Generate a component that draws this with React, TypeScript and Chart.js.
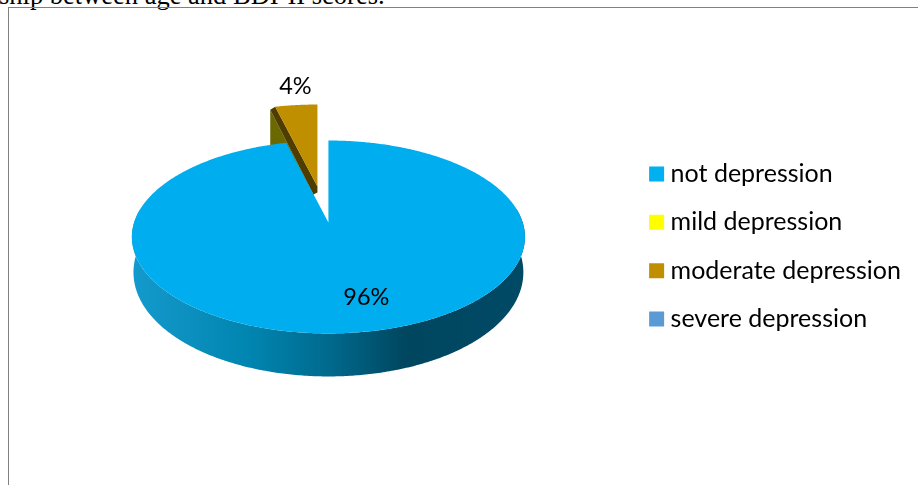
import React, { useEffect, useRef } from "react";
import { Chart, PieController, ArcElement, Legend } from "chart.js";

const categories = ["not depression", "mild depression", "moderate depression", "severe depression"];
const shares = [96, 0, 4, 0];
const sliceColors = ["#00AEEF", "#FFFF00", "#BF8F00", "#5B9BD5"];
const legendColors = ["#00B0F0", "#FFFF00", "#BF8F00", "#5B9BD5"];

// Disc projection: squash turns the circle into an ellipse, tilt adds the perspective.
const SQUASH = 0.4853;
const TILT = 0.15;
const RADIUS = 194.3;
const APEX_LIFT = 24;
const DEPTH_BASE = 34;
const DEPTH_FRONT = 9;
const FONT = "Lato, 'Open Sans', sans-serif";

// The pulled-out slice and where each percentage sits relative to the apex.
const pulledSlice = { index: 2, dx: -11, dy: -36 };
const labelOffsets: Record<number, { dx: number; dy: number }> = {
  0: { dx: 38, dy: 75 },
  2: { dx: -33, dy: -136 },
};

function project(angle: number, cx: number, cy: number, r: number) {
  const u = Math.cos(angle);
  const v = Math.sin(angle);
  const w = 1 - TILT * v;
  return { x: cx + (r * u) / w, y: cy + (r * SQUASH * v) / w, v };
}

function sampleRim(start: number, end: number, cx: number, cy: number, r: number) {
  const steps = Math.max(2, Math.ceil(Math.abs(end - start) / 0.01));
  const pts = [];
  for (let i = 0; i <= steps; i++) pts.push(project(start + ((end - start) * i) / steps, cx, cy, r));
  return pts;
}

function fillPoly(ctx: CanvasRenderingContext2D, pts: { x: number; y: number }[], color: string | CanvasGradient) {
  ctx.beginPath();
  pts.forEach((p, i) => (i ? ctx.lineTo(p.x, p.y) : ctx.moveTo(p.x, p.y)));
  ctx.closePath();
  ctx.fillStyle = color;
  ctx.fill();
}

class TiltedPieController extends PieController {
  static id = "tiltedPie";
  static defaults = PieController.defaults;
  static overrides = PieController.overrides;

  draw() {
    const ctx: CanvasRenderingContext2D = this.chart.ctx;
    const arcs: any[] = this.getMeta().data as any[];
    const values = this.chart.data.datasets[0].data as number[];
    const colors = this.chart.data.datasets[0].backgroundColor as string[];
    ctx.save();

    // The pulled-out slice goes first so that the main slice overlaps its walls.
    const order = arcs.map((_, i) => i).sort((a, b) => (b === pulledSlice.index ? 1 : 0) - (a === pulledSlice.index ? 1 : 0));
    for (const i of order) {
      if (!values[i]) continue;
      const arc = arcs[i];
      const r = arc.outerRadius;
      let cx = arc.x;
      let cy = arc.y - APEX_LIFT;
      if (i === pulledSlice.index) {
        cx += pulledSlice.dx;
        cy += pulledSlice.dy;
        const rim = sampleRim(arc.startAngle, arc.endAngle, cx, cy, r);
        const apex = { x: cx, y: cy };
        const edge = rim[0];
        const shifted = (p: { x: number; y: number }, dx: number, dy: number) => ({ x: p.x + dx, y: p.y + dy });
        fillPoly(ctx, [shifted(edge, -5, 3), shifted(apex, -4, 8), shifted(apex, -4, 50), shifted(edge, -5, 44)], "#6B6800");
        fillPoly(ctx, [edge, apex, shifted(apex, 0, 6), shifted(apex, -4, 8), shifted(edge, -5, 3)], "#4F3D00");
        fillPoly(ctx, [apex, ...rim], colors[i]);
      } else {
        // Side wall of the disc, only the part that faces the viewer.
        const front = sampleRim(-0.15, Math.PI + 0.15, cx, cy, r);
        const lower = front
          .map((p) => ({ x: cx + (p.x - cx) * 0.992, y: p.y + DEPTH_BASE + DEPTH_FRONT * p.v }))
          .reverse();
        const grad = ctx.createLinearGradient(cx - r, 0, cx + r, 0);
        grad.addColorStop(0, "#1499CC");
        grad.addColorStop(0.3, "#0085B0");
        grad.addColorStop(0.5, "#006A8E");
        grad.addColorStop(0.7, "#00465F");
        grad.addColorStop(1, "#004A66");
        fillPoly(ctx, [...front, ...lower], grad);
        fillPoly(ctx, [{ x: cx, y: cy }, ...sampleRim(arc.startAngle, arc.endAngle, cx, cy, r)], colors[i]);
      }
    }

    // Percentage labels
    ctx.fillStyle = "#000000";
    ctx.font = `23.5px ${FONT}`;
    ctx.textAlign = "center";
    ctx.textBaseline = "middle";
    arcs.forEach((arc, i) => {
      if (!values[i] || !labelOffsets[i]) return;
      ctx.fillText(`${values[i]}%`, arc.x + labelOffsets[i].dx, arc.y - APEX_LIFT + labelOffsets[i].dy);
    });
    ctx.restore();
  }
}

Chart.register(TiltedPieController, ArcElement, Legend);

export default function App() {
  const canvasRef = useRef<HTMLCanvasElement | null>(null);

  useEffect(() => {
    const chart = new Chart(canvasRef.current as HTMLCanvasElement, {
      type: "tiltedPie" as any,
      data: {
        labels: categories,
        datasets: [{ data: shares, backgroundColor: sliceColors, borderWidth: 0 }],
      },
      options: {
        responsive: false,
        animation: false,
        radius: RADIUS,
        layout: { padding: { left: 25, right: 7, top: 8, bottom: 0 } },
        plugins: {
          tooltip: { enabled: false },
          legend: {
            position: "right",
            labels: {
              boxWidth: 3,
              boxHeight: 3,
              padding: 23.3,
              color: "#000000",
              font: { family: FONT, size: 25 },
              // A small box with a heavy outline gives a 15px square sitting close to its text.
              generateLabels: () =>
                categories.map((text, index) => ({
                  text,
                  index,
                  fillStyle: legendColors[index],
                  strokeStyle: legendColors[index],
                  lineWidth: 12,
                })),
            },
          },
        },
      } as any,
    });
    return () => chart.destroy();
  }, []);

  return (
    <div style={{ position: "fixed", left: 0, top: 0, width: 918, height: 485, overflow: "hidden", background: "#ffffff" }}>
      <div
        style={{
          position: "absolute",
          left: -1,
          top: -18,
          whiteSpace: "nowrap",
          fontFamily: "'Liberation Serif', serif",
          fontSize: 26.5,
          lineHeight: "27px",
          color: "#000000",
        }}
      >
        ship between age and BDI-II scores.
      </div>
      <canvas ref={canvasRef} width={918} height={485} style={{ position: "absolute", left: 0, top: 0, display: "block" }} />
      <div style={{ position: "absolute", left: 8, top: 7, right: 0, bottom: 0, borderLeft: "1px solid #808080", borderTop: "1px solid #808080" }} />
    </div>
  );
}
